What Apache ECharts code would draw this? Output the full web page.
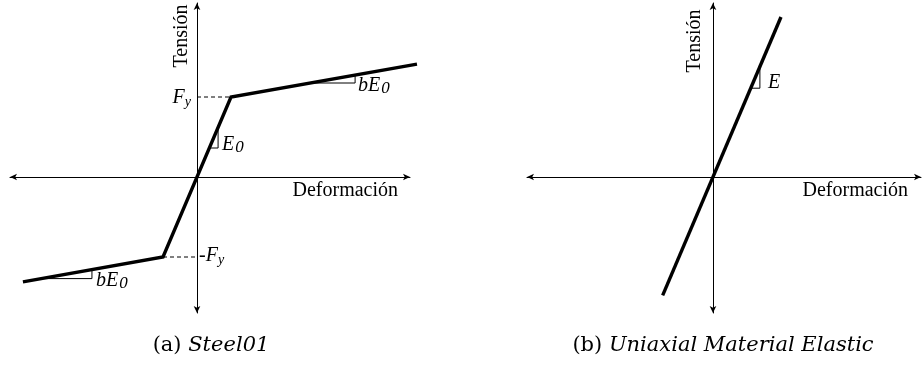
<!DOCTYPE html>
<html>
<head>
<meta charset="utf-8">
<script src="https://cdn.jsdelivr.net/npm/echarts@6/dist/echarts.min.js"></script>
<style>
  html, body { margin: 0; padding: 0; background: #fff; }
  #chart { width: 923px; height: 368px; }
</style>
</head>
<body>
<div id="chart"></div>
<script>
// Steel01 bilinear law (strain, stress), yield normalised to 1
const steelStrain = [-5.12, -1, 1, 6.47];
const steelStress = [-1.31, -1, 1, 1.41];
const yieldStress = [1, -1];

// Linear elastic law
const elasticStrain = [-1.48, 2];
const elasticStress = [-1.48, 2];

// Slope triangles: [stress of horizontal leg, strain of vertical leg]
const steelSlopeMarks = [[0.3625, 0.62], [1.175, 4.65], [-1.27, -3.09]];
const elasticSlopeMarks = [[1.11, 1.38]];

const SERIF = '"Liberation Serif", "DejaVu Serif", serif';
const CAPTION_FONT = '"DejaVu Serif", serif';

// pixel scale shared by every panel: one strain unit = 34 px, one stress unit = 80 px
const PX_X = 34, PX_Y = 80;
const Y_MIN = -1.7, Y_MAX = 2.175;

function pairs(xs, ys) { return xs.map((x, i) => [x, ys[i]]); }

// piecewise-linear lookups along a curve
function yAt(xs, ys, x) {
  for (let i = 0; i < xs.length - 1; i++) {
    if (x >= xs[i] && x <= xs[i + 1]) {
      return ys[i] + (ys[i + 1] - ys[i]) * (x - xs[i]) / (xs[i + 1] - xs[i]);
    }
  }
  return null;
}
function xAt(xs, ys, y) {
  for (let i = 0; i < ys.length - 1; i++) {
    const lo = Math.min(ys[i], ys[i + 1]), hi = Math.max(ys[i], ys[i + 1]);
    if (y >= lo && y <= hi) {
      return xs[i] + (xs[i + 1] - xs[i]) * (y - ys[i]) / (ys[i + 1] - ys[i]);
    }
  }
  return null;
}
function triangle(xs, ys, mark) {
  const [yb, xr] = mark;
  return [[xAt(xs, ys, yb), yb], [xr, yb], [xr, yAt(xs, ys, xr)]];
}

const chart = echarts.init(document.getElementById('chart'), null, { renderer: 'canvas' });

function axis(gridIndex, min, max, visible) {
  return {
    type: 'value', gridIndex, min, max, show: visible,
    axisLine: { onZero: true, symbol: ['arrow', 'arrow'], symbolSize: [5, 7],
      lineStyle: { color: '#000', width: 1 } },
    axisTick: { show: false }, axisLabel: { show: false }, splitLine: { show: false }
  };
}

function thinLine(idx, data, dashed) {
  return {
    type: 'line', xAxisIndex: idx, yAxisIndex: idx, data,
    symbol: 'none', silent: true, clip: false, z: 3,
    lineStyle: { color: '#000', width: 1, type: dashed ? [4, 3] : 'solid' }
  };
}
function thickLine(idx, data) {
  return {
    type: 'line', xAxisIndex: idx, yAxisIndex: idx, data,
    symbol: 'none', silent: true, clip: false, z: 4,
    lineStyle: { color: '#000', width: 3.4, cap: 'butt', join: 'miter' }
  };
}

const series = [];
// the hardening branch runs past the strain arrow, so it sits on a wider overlay grid (index 2)
series.push(thickLine(2, pairs(steelStrain, steelStress)));
yieldStress.forEach(fy => {
  const xy = xAt(steelStrain, steelStress, fy);
  series.push(thinLine(0, fy > 0 ? [[0, fy], [xy, fy]] : [[xy, fy], [0, fy]], true));
});
steelSlopeMarks.forEach(m => series.push(thinLine(0, triangle(steelStrain, steelStress, m), false)));
series.push(thickLine(1, pairs(elasticStrain, elasticStress)));
elasticSlopeMarks.forEach(m => series.push(thinLine(1, triangle(elasticStrain, elasticStress, m), false)));

const mathRich = {
  i: { fontFamily: SERIF, fontStyle: 'italic', fontSize: 20, lineHeight: 22, verticalAlign: 'top', fill: '#000' },
  r: { fontFamily: SERIF, fontSize: 20, lineHeight: 22, verticalAlign: 'top', fill: '#000' },
  s: { fontFamily: SERIF, fontStyle: 'italic', fontSize: 14, lineHeight: 22, verticalAlign: 'top', padding: [7, 0, 0, 0], fill: '#000' },
  z: { fontFamily: SERIF, fontStyle: 'italic', fontSize: 17, lineHeight: 22, verticalAlign: 'top', padding: [4, 0, 0, 1], fill: '#000' }
};
function mathText(text, x, y, align) {
  return { type: 'text', x, y, silent: true,
    style: { text, rich: mathRich, align: align || 'left', verticalAlign: 'middle' } };
}
function axisTitle(text, x, y, align, vertical) {
  return { type: 'text', x, y, rotation: vertical ? Math.PI / 2 : 0, silent: true,
    style: { text, fontFamily: SERIF, fontSize: 20, fill: '#000', align, verticalAlign: 'middle' } };
}
function caption(tag, name, x, y) {
  return { type: 'text', x, y, silent: true,
    style: { text: tag + ' {c|' + name + '}', fontFamily: CAPTION_FONT, fontSize: 21, fill: '#000',
      align: 'center', verticalAlign: 'middle',
      rich: { c: { fontFamily: CAPTION_FONT, fontStyle: 'italic', fontSize: 21, fill: '#000' } } } };
}

const graphics = [
  axisTitle('Tensión', 182, 36, 'center', true),
  axisTitle('Deformación', 398, 191, 'right', false),
  axisTitle('Tensión', 695, 41, 'center', true),
  axisTitle('Deformación', 908, 191, 'right', false),
  mathText('{i|F}{s|y}', 191, 99, 'right'),
  mathText('{r|-}{i|F}{s|y}', 199, 257, 'left'),
  mathText('{i|E}{z|0}', 222, 146, 'left'),
  mathText('{i|bE}{z|0}', 358, 87, 'left'),
  mathText('{i|bE}{z|0}', 96, 282, 'left'),
  mathText('{i|E}', 768, 84, 'left'),
  caption('(a)', 'Steel01', 211, 346),
  caption('(b)', 'Uniaxial Material Elastic', 723, 346)
];

const gridTop = 3, gridH = (Y_MAX - Y_MIN) * PX_Y;
chart.setOption({
  animation: false,
  backgroundColor: '#fff',
  grid: [
    { left: 10, top: gridTop, width: 400, height: gridH },
    { left: 527, top: gridTop, width: 394, height: gridH },
    { left: 10, top: gridTop, width: 440, height: gridH }
  ],
  xAxis: [
    axis(0, -5.5, -5.5 + 400 / PX_X, true),
    axis(1, -5.47, -5.47 + 394 / PX_X, true),
    axis(2, -5.5, -5.5 + 440 / PX_X, false)
  ],
  yAxis: [
    axis(0, Y_MIN, Y_MAX, true),
    axis(1, Y_MIN, Y_MAX, true),
    axis(2, Y_MIN, Y_MAX, false)
  ],
  series,
  graphic: graphics
});
</script>
</body>
</html>
